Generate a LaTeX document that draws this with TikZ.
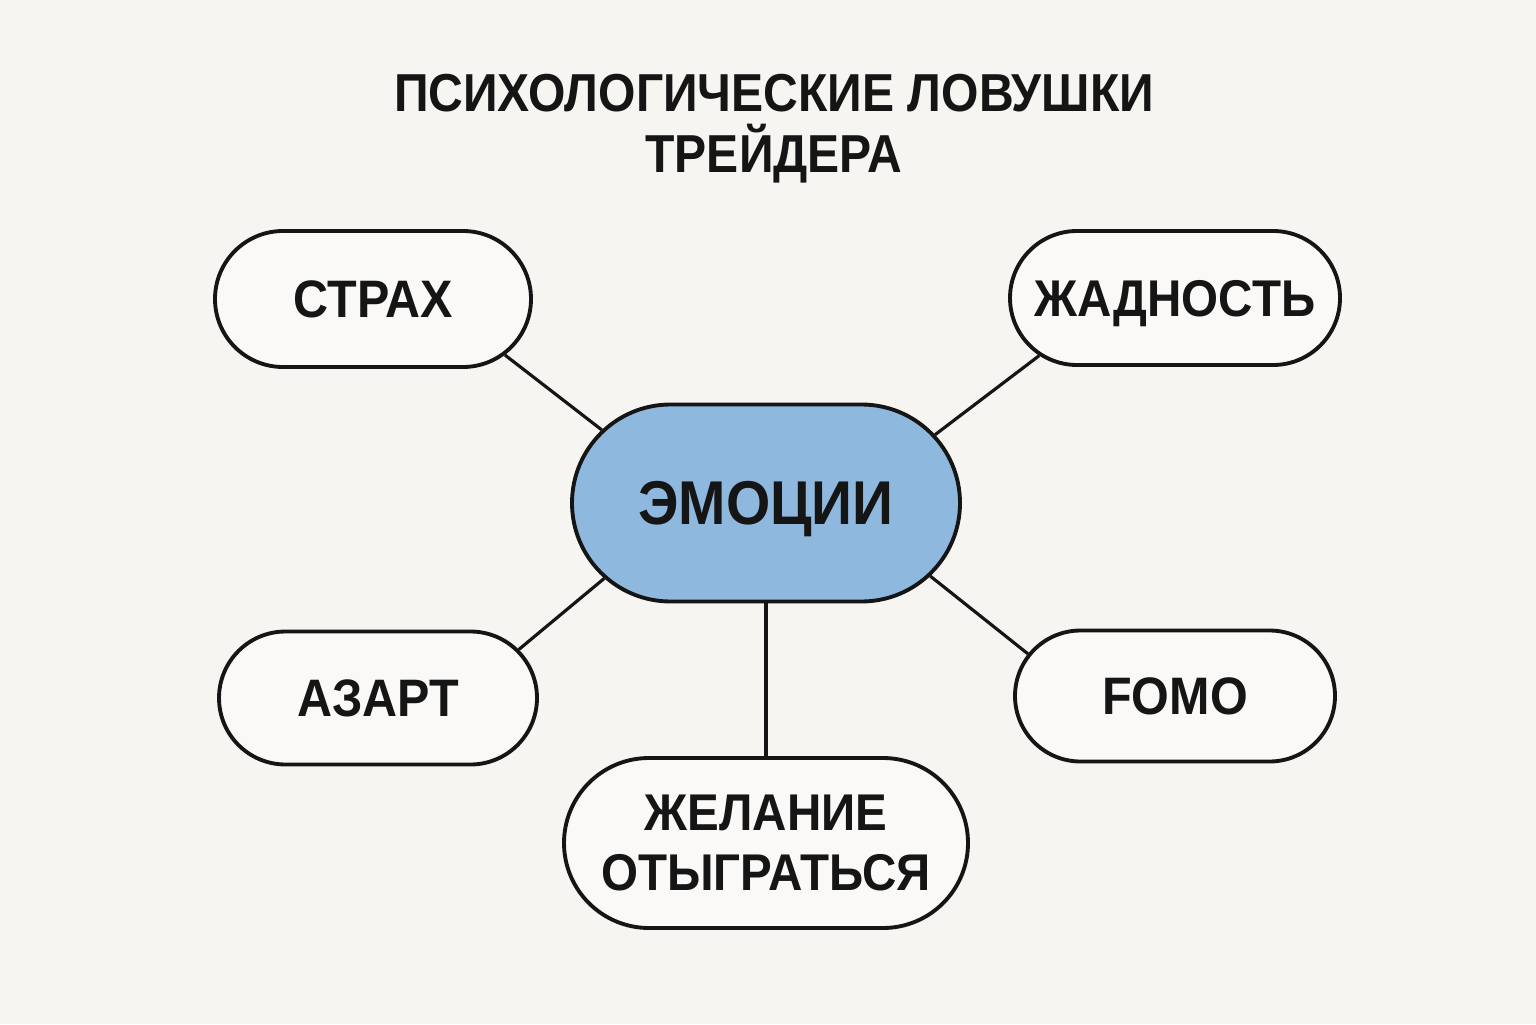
\documentclass[tikz,border=0pt]{standalone}
\usepackage{fontspec}
\setmainfont{Liberation Sans}[FakeStretch=0.92]
\newfontfamily\titlefont{Liberation Sans}[FakeStretch=0.9]
\usepackage{xcolor}
\definecolor{paper}{HTML}{F6F5F1}
\definecolor{coreblue}{HTML}{8FB8DE}
\definecolor{ink}{HTML}{151515}
\usepackage{tikz}
\usetikzlibrary{shapes.misc}

\begin{document}
\begin{tikzpicture}[
    trap/.style={
        rounded rectangle, draw=ink, line width=1.1pt, fill=white!40!paper,
        minimum width=3.2cm, minimum height=1.34cm, inner sep=0pt,
        text depth=0pt, font=\fontsize{15}{17}\selectfont\bfseries, text=ink
    },
    core/.style={
        trap, fill=coreblue,
        minimum width=3.88cm, minimum height=1.97cm,
        font=\fontsize{17.6}{19}\selectfont\bfseries
    },
    link/.style={draw=ink, line width=0.9pt},
    head/.style={align=center, text=ink,
        font=\titlefont\fontsize{15.2}{17.3}\selectfont\bfseries}
]

% --- Fond ---
\fill[paper] (0,0) rectangle (15.36,10.24);
\useasboundingbox (0,0) rectangle (15.36,10.24);

% --- Titre ---
\node[head] (title) at (7.74,8.95) {ПСИХОЛОГИЧЕСКИЕ ЛОВУШКИ\\ТРЕЙДЕРА};

% --- Noeuds ---
\node[core] (emo) at (7.66,5.21) {ЭМОЦИИ};
\node[trap, minimum width=3.16cm, minimum height=1.36cm] (fear)  at (3.73,7.25) {СТРАХ};
\node[trap, minimum width=3.30cm, font=\fontsize{14.7}{17}\selectfont\bfseries] (greed) at (11.75,7.26) {ЖАДНОСТЬ};
\node[trap, minimum width=3.18cm, minimum height=1.33cm] (thrill) at (3.78,3.26) {АЗАРТ};
\node[trap, minimum height=1.31cm] (fomo) at (11.75,3.28) {FOMO};
\node[trap, minimum width=4.04cm, minimum height=1.70cm, align=center,
      font=\fontsize{14.7}{17}\selectfont\bfseries] (revenge) at (7.66,1.81)
    {ЖЕЛАНИЕ\\ОТЫГРАТЬСЯ};

% --- Liens ---
\draw[link] (emo.156) -- (fear.-23);
\draw[link] (emo.22) -- (greed.-157);
\draw[link] (emo.-155) -- (thrill.19);
\draw[link] (emo.-24) -- (fomo.164);
\draw[link] (emo.south) -- (revenge.north);

\end{tikzpicture}
\end{document}
